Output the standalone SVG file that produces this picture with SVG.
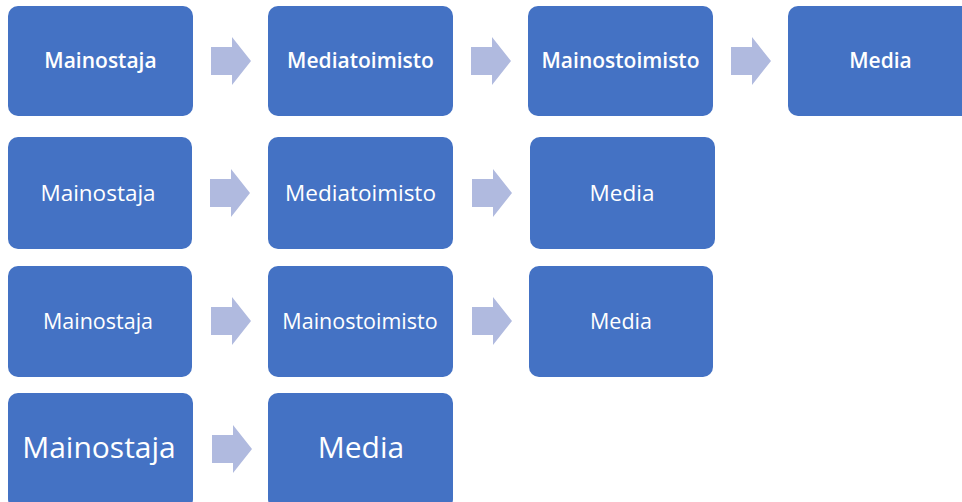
<svg xmlns="http://www.w3.org/2000/svg" width="962" height="502" viewBox="0 0 962 502">
<defs>
<style>
.box{fill:#4472C4}
.arr{fill:#B0BADF}
.t{fill:#FFFFFF;font-family:"Open Sans","Noto Sans",sans-serif;font-size:21px;font-weight:600;text-anchor:middle}
.t2{font-size:22.5px;font-weight:500}
.t3{font-size:21.5px;font-weight:500}
.tb{font-size:30px;font-weight:400}
</style>
<path id="ar" d="M0,-14 H21 V-24 L40,0 L21,24 V14 H0 Z"/>
</defs>
<rect width="962" height="502" fill="#FFFFFF"/>
<g id="connectors">
<use href="#ar" class="arr" x="211" y="61"/>
<use href="#ar" class="arr" x="471" y="61"/>
<use href="#ar" class="arr" x="731" y="61"/>
<use href="#ar" class="arr" x="210" y="193"/>
<use href="#ar" class="arr" x="472" y="193"/>
<use href="#ar" class="arr" x="211" y="321"/>
<use href="#ar" class="arr" x="472" y="321"/>
<use href="#ar" class="arr" x="212" y="449"/>
</g>
<g id="r1n1"><rect class="box" x="8" y="6" width="185" height="110" rx="10"/><text class="t" x="100.5" y="68">Mainostaja</text></g>
<g id="r1n2"><rect class="box" x="268" y="6" width="185" height="110" rx="10"/><text class="t" x="360.5" y="68">Mediatoimisto</text></g>
<g id="r1n3"><rect class="box" x="528" y="6" width="185" height="110" rx="10"/><text class="t" x="620.5" y="68">Mainostoimisto</text></g>
<g id="r1n4"><rect class="box" x="788" y="6" width="185" height="110" rx="10"/><text class="t" x="880.5" y="68">Media</text></g>
<g id="r2n1"><rect class="box" x="8" y="137" width="184" height="112" rx="10"/><text class="t t2" x="98" y="201">Mainostaja</text></g>
<g id="r2n2"><rect class="box" x="268" y="137" width="185" height="112" rx="10"/><text class="t t2" x="360.5" y="201">Mediatoimisto</text></g>
<g id="r2n3"><rect class="box" x="530" y="137" width="185" height="112" rx="10"/><text class="t t2" x="622" y="201">Media</text></g>
<g id="r3n1"><rect class="box" x="8" y="266" width="184" height="111" rx="10"/><text class="t t3" x="98" y="329">Mainostaja</text></g>
<g id="r3n2"><rect class="box" x="268" y="266" width="185" height="111" rx="10"/><text class="t t3" x="360" y="329">Mainostoimisto</text></g>
<g id="r3n3"><rect class="box" x="529" y="266" width="184" height="111" rx="10"/><text class="t t3" x="621" y="329">Media</text></g>
<g id="r4n1"><rect class="box" x="8" y="393" width="185" height="116" rx="10"/><text class="t tb" x="99" y="458">Mainostaja</text></g>
<g id="r4n2"><rect class="box" x="268" y="393" width="185" height="116" rx="10"/><text class="t tb" x="361" y="458">Media</text></g>
</svg>
